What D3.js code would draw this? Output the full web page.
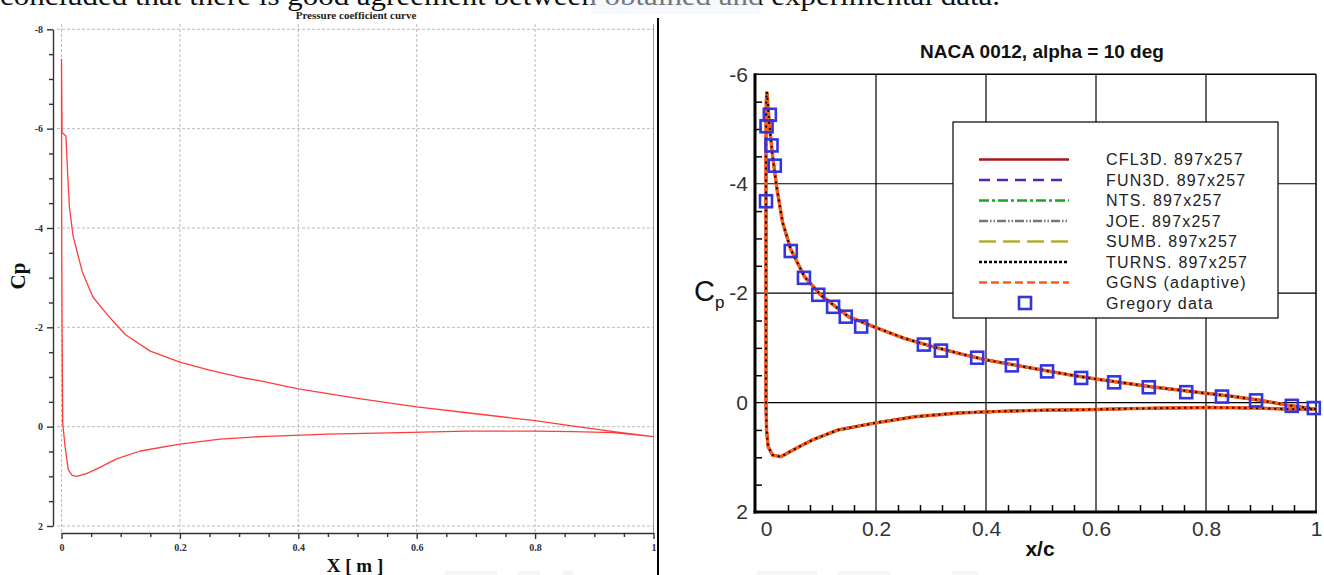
<!DOCTYPE html>
<html>
<head>
<meta charset="utf-8">
<script src="https://cdn.jsdelivr.net/npm/d3@7"></script>
<style>
  body { margin: 0; background: #fff; }
  svg { display: block; }
</style>
</head>
<body>
<div id="container"></div>
<script>
// ---- left chart data (Pressure coefficient curve) ----
// upper surface, trailing edge -> leading edge (with the LE spike)
const leftUpperX  = [1.0, 0.933, 0.865, 0.8, 0.685, 0.6, 0.5, 0.4, 0.336, 0.3, 0.25, 0.2, 0.15, 0.108, 0.0775, 0.053, 0.035, 0.0195, 0.0134, 0.0104, 0.0075, 0.003, 0.001, 0];
const leftUpperCp = [0.20, 0.10, -0.01, -0.12, -0.28, -0.40, -0.57, -0.76, -0.92, -1.0, -1.14, -1.30, -1.52, -1.85, -2.25, -2.61, -3.12, -3.84, -4.42, -5.08, -5.85, -5.9, -5.92, -7.4];
// lower surface, leading edge -> trailing edge
const leftLowerX  = [0.0003, 0.001, 0.002, 0.006, 0.0115, 0.018, 0.026, 0.043, 0.065, 0.093, 0.133, 0.2, 0.268, 0.336, 0.45, 0.572, 0.685, 0.8, 0.865, 0.932, 1.0];
const leftLowerCp = [-4.0, -2.0, -0.07, 0.40, 0.87, 0.98, 1.0, 0.94, 0.82, 0.65, 0.49, 0.35, 0.25, 0.20, 0.15, 0.12, 0.09, 0.09, 0.10, 0.12, 0.20];
const leftYTicks = [-8, -6, -4, -2, 0, 2];
const leftXTicks = [0, 0.2, 0.4, 0.6, 0.8, 1];

// ---- right chart data (NACA 0012, alpha = 10 deg) ----
const rightUpperX  = [1.0, 0.95, 0.9, 0.85, 0.8, 0.75, 0.7, 0.65, 0.6, 0.55, 0.5, 0.45, 0.4, 0.35, 0.3, 0.25, 0.2, 0.15, 0.1, 0.07, 0.045, 0.03, 0.02, 0.012, 0.006, 0.003, 0.0015, 0.0005, 0];
const rightUpperCp = [0.12, 0.05, -0.04, -0.11, -0.17, -0.23, -0.29, -0.36, -0.43, -0.51, -0.6, -0.69, -0.78, -0.9, -1.03, -1.18, -1.37, -1.57, -1.96, -2.3, -2.8, -3.3, -3.9, -4.5, -5.1, -5.5, -5.68, -5.5, -4.5];
const rightLowerX  = [0, 0, 0.001, 0.004, 0.012, 0.027, 0.054, 0.085, 0.131, 0.2, 0.27, 0.35, 0.425, 0.5, 0.58, 0.66, 0.73, 0.81, 0.89, 0.95, 1.0];
const rightLowerCp = [-2.0, 0.0, 0.5, 0.81, 0.96, 0.99, 0.84, 0.68, 0.50, 0.37, 0.26, 0.19, 0.16, 0.14, 0.13, 0.11, 0.10, 0.09, 0.10, 0.12, 0.12];
const gregoryX  = [0.001, 0.007, 0.0, 0.010, 0.016, 0.045, 0.069, 0.095, 0.122, 0.145, 0.173, 0.287, 0.318, 0.384, 0.447, 0.511, 0.573, 0.633, 0.696, 0.764, 0.829, 0.891, 0.956, 0.996];
const gregoryCp = [-5.05, -5.26, -3.68, -4.70, -4.33, -2.77, -2.28, -1.97, -1.75, -1.57, -1.39, -1.06, -0.95, -0.82, -0.68, -0.57, -0.45, -0.37, -0.28, -0.19, -0.11, -0.04, 0.06, 0.10];
const codeNames = ["CFL3D. 897x257", "FUN3D. 897x257", "NTS. 897x257", "JOE. 897x257", "SUMB. 897x257", "TURNS. 897x257", "GGNS (adaptive)"];
const rightYTicks = [-6, -4, -2, 0, 2];
const rightXTicks = [0, 0.2, 0.4, 0.6, 0.8, 1];

// line styles per code
const codeStyle = {
  "CFL3D. 897x257":  {color: "#a81818", dash: null},
  "FUN3D. 897x257":  {color: "#5523b5", dash: "11,7"},
  "NTS. 897x257":    {color: "#25a025", dash: "10,3,3,3"},
  "JOE. 897x257":    {color: "#777777", dash: "9,2,1.5,2,1.5,2"},
  "SUMB. 897x257":   {color: "#b5b033", dash: "17,7"},
  "TURNS. 897x257":  {color: "#000000", dash: "3,2"},
  "GGNS (adaptive)": {color: "#ff5a1a", dash: "8,4"}
};
// plot order: GGNS drawn solid-ish, TURNS dots on top
const drawOrder = ["CFL3D. 897x257", "FUN3D. 897x257", "NTS. 897x257", "JOE. 897x257", "SUMB. 897x257", "GGNS (adaptive)", "TURNS. 897x257"];

const W = 1324, H = 575;
const svg = d3.select("#container").append("svg").attr("width", W).attr("height", H);

// page text cut off at the top
svg.append("text")
  .attr("x", 0).attr("y", 5)
  .attr("textLength", 1000).attr("lengthAdjust", "spacingAndGlyphs")
  .style("font-family", "'Liberation Serif', 'Times New Roman', serif")
  .style("font-size", "28px").attr("fill", "#111")
  .text("concluded that there is good agreement between obtained and experimental data.");
svg.append("rect").attr("x", 592).attr("y", 0).attr("width", 168).attr("height", 14)
  .attr("fill", "#e8eff8").attr("opacity", 0.45);

// faint watermark pieces at the bottom
[[445, 52], [518, 22], [563, 10], [757, 60], [838, 52], [952, 26]].forEach(r => {
  svg.append("rect").attr("x", r[0]).attr("y", 571).attr("width", r[1]).attr("height", 4)
    .attr("fill", "#f2f6fb");
});

/* ================= LEFT CHART ================= */
const xL = d3.scaleLinear().domain([0, 1]).range([61.5, 653.5]);
const yL = d3.scaleLinear().domain([-8, 2]).range([29.3, 526]);
const serif = "'Liberation Serif', 'Times New Roman', serif";

const gl = svg.append("g");

// dashed grid
gl.selectAll("line.hgrid").data(leftYTicks).join("line")
  .attr("x1", 57).attr("x2", xL(1)).attr("y1", d => yL(d)).attr("y2", d => yL(d))
  .attr("stroke", "#bbb").attr("stroke-dasharray", "3,2");
gl.selectAll("line.vgrid").data(leftXTicks.slice(0, 5)).join("line")
  .attr("x1", d => xL(d)).attr("x2", d => xL(d)).attr("y1", 24).attr("y2", 533)
  .attr("stroke", "#bbb").attr("stroke-dasharray", "3,2");
gl.append("line").attr("x1", xL(1)).attr("x2", xL(1)).attr("y1", 24).attr("y2", 533)
  .attr("stroke", "#999");

// y axis
gl.append("g").attr("transform", "translate(53,0)")
  .call(d3.axisLeft(yL).tickValues(leftYTicks).tickSize(6).tickSizeOuter(0).tickPadding(4).tickFormat(d => String(d)));
gl.append("g").attr("transform", "translate(53,0)")
  .call(d3.axisLeft(yL).tickValues(d3.range(-7.5, 2, 0.5).filter(v => v % 2 !== 0)).tickSize(4).tickFormat(""))
  .call(g => g.select(".domain").remove());

// x axis
gl.append("g").attr("transform", "translate(0,533)")
  .call(d3.axisBottom(xL).tickValues(leftXTicks).tickSize(6).tickSizeOuter(0).tickPadding(5).tickFormat(d => String(d)));
gl.append("g").attr("transform", "translate(0,533)")
  .call(d3.axisBottom(xL).tickValues(d3.range(0.05, 1, 0.1).concat(d3.range(0.1, 1, 0.2))).tickSize(4).tickFormat(""))
  .call(g => g.select(".domain").remove());

gl.selectAll(".domain, .tick line").attr("stroke", "#333").attr("stroke-width", 1.4);
gl.selectAll(".tick text").attr("fill", "#2c3040")
  .style("font-family", serif).style("font-size", "10px").style("font-weight", "bold");

// curve
const leftPts = d3.zip(leftUpperX, leftUpperCp).concat(d3.zip(leftLowerX, leftLowerCp));
const lineL = d3.line().x(d => xL(d[0])).y(d => yL(d[1]));
gl.append("path").datum(leftPts).attr("d", lineL)
  .attr("fill", "none").attr("stroke", "#ff3c3c").attr("stroke-width", 1.3)
  .attr("stroke-linejoin", "round");

// titles
gl.append("text").attr("x", 356).attr("y", 19).attr("text-anchor", "middle")
  .style("font-family", serif).style("font-size", "11px").style("font-weight", "bold")
  .attr("fill", "#222").text("Pressure coefficient curve");
gl.append("text").attr("transform", "translate(25,276) rotate(-90)").attr("text-anchor", "middle")
  .style("font-family", serif).style("font-size", "21px").style("font-weight", "bold").attr("fill", "#111")
  .text("Cp");
gl.append("text").attr("x", 355).attr("y", 572).attr("text-anchor", "middle")
  .style("font-family", serif).style("font-size", "19px").style("font-weight", "bold").attr("fill", "#111")
  .text("X [ m ]");

// separator between the two pictures
svg.append("line").attr("x1", 658).attr("x2", 658).attr("y1", 18).attr("y2", 575)
  .attr("stroke", "#000").attr("stroke-width", 2);

/* ================= RIGHT CHART ================= */
const xR = d3.scaleLinear().domain([0, 1]).range([766, 1316]);
const yR = d3.scaleLinear().domain([-6, 2]).range([74.3, 512]);
const sans = "'Liberation Sans', Arial, Helvetica, sans-serif";
const axX = 755;

const gr = svg.append("g");

// grid
gr.selectAll("line.hgrid").data(rightYTicks.slice(1, 4)).join("line")
  .attr("x1", axX).attr("x2", xR(1)).attr("y1", d => yR(d)).attr("y2", d => yR(d))
  .attr("stroke", "#000").attr("stroke-width", 1.2);
gr.selectAll("line.vgrid").data(rightXTicks.slice(1, 5)).join("line")
  .attr("x1", d => xR(d)).attr("x2", d => xR(d)).attr("y1", yR(-6)).attr("y2", yR(2))
  .attr("stroke", "#000").attr("stroke-width", 1.2);
// frame top / right
gr.append("line").attr("x1", axX).attr("x2", xR(1)).attr("y1", yR(-6)).attr("y2", yR(-6)).attr("stroke", "#000").attr("stroke-width", 1.5);
gr.append("line").attr("x1", xR(1)).attr("x2", xR(1)).attr("y1", yR(-6)).attr("y2", yR(2)).attr("stroke", "#000").attr("stroke-width", 1.5);

// axes
gr.append("g").attr("transform", `translate(${axX},0)`)
  .call(d3.axisLeft(yR).tickValues(rightYTicks).tickSize(0).tickSizeOuter(0).tickPadding(7).tickFormat(d => String(d)))
  .call(g => g.select(".domain").remove());
gr.append("g").attr("transform", `translate(${axX},0)`)
  .call(d3.axisLeft(yR).tickValues(d3.range(-5.5, 2, 0.5).filter(v => v % 2 !== 0)).tickSize(-7).tickFormat(""))
  .call(g => g.select(".domain").remove());
gr.append("g").attr("transform", `translate(0,${yR(2)})`)
  .call(d3.axisBottom(xR).tickValues(rightXTicks).tickSize(0).tickSizeOuter(0).tickPadding(9).tickFormat(d => String(d)))
  .call(g => g.select(".domain").remove());
gr.append("g").attr("transform", `translate(0,${yR(2)})`)
  .call(d3.axisBottom(xR).tickValues(d3.range(0, 25).map(i => i * 0.04).filter((v, i) => i % 5 !== 0)).tickSize(-7).tickFormat(""))
  .call(g => g.select(".domain").remove());
gr.selectAll(".tick line").attr("stroke", "#000").attr("stroke-width", 1.5);
gr.selectAll(".tick text").attr("fill", "#333")
  .style("font-family", sans).style("font-size", "21px");

gr.append("line").attr("x1", axX).attr("x2", axX).attr("y1", yR(-6) - 1).attr("y2", yR(2) + 1.5)
  .attr("stroke", "#000").attr("stroke-width", 3);
gr.append("line").attr("x1", axX - 1.5).attr("x2", xR(1) + 1).attr("y1", yR(2)).attr("y2", yR(2))
  .attr("stroke", "#000").attr("stroke-width", 3);

// CFD curves (all codes overlap)
const rightPts = d3.zip(rightUpperX, rightUpperCp).concat(d3.zip(rightLowerX, rightLowerCp));
const lineR = d3.line().x(d => xR(d[0])).y(d => yR(d[1]));
gr.selectAll("path.code").data(drawOrder).join("path")
  .attr("class", "code")
  .attr("d", () => lineR(rightPts))
  .attr("fill", "none")
  .attr("stroke", d => codeStyle[d].color)
  .attr("stroke-width", d => d === "GGNS (adaptive)" ? 3.4 : d === "TURNS. 897x257" ? 2 : 2.6)
  .attr("stroke-dasharray", d => d === "GGNS (adaptive)" ? null : d === "TURNS. 897x257" ? "2,4" : codeStyle[d].dash);

// Gregory data squares
const sq = 12;
gr.selectAll("rect.greg").data(d3.zip(gregoryX, gregoryCp)).join("rect")
  .attr("class", "greg")
  .attr("x", d => xR(d[0]) - sq / 2).attr("y", d => yR(d[1]) - sq / 2)
  .attr("width", sq).attr("height", sq)
  .attr("fill", "none").attr("stroke", "#3535e0").attr("stroke-width", 2.6);

// legend
const lg = gr.append("g");
lg.append("rect").attr("x", 953).attr("y", 122).attr("width", 325).attr("height", 196)
  .attr("fill", "#fff").attr("stroke", "#000").attr("stroke-width", 1.2);
const rowY = i => 159.5 + i * 20.5;
lg.selectAll("line.key").data(codeNames).join("line")
  .attr("x1", 979).attr("x2", 1069).attr("y1", (d, i) => rowY(i)).attr("y2", (d, i) => rowY(i))
  .attr("stroke", d => codeStyle[d].color).attr("stroke-width", 2.6)
  .attr("stroke-dasharray", d => codeStyle[d].dash);
lg.append("rect").attr("x", 1025 - sq / 2).attr("y", rowY(7) - sq / 2).attr("width", sq).attr("height", sq)
  .attr("fill", "none").attr("stroke", "#3535e0").attr("stroke-width", 2.6);
lg.selectAll("text.key").data(codeNames.concat(["Gregory data"])).join("text")
  .attr("x", 1106).attr("y", (d, i) => rowY(i)).attr("dy", "0.36em")
  .style("font-family", sans).style("font-size", "16px").style("letter-spacing", "1.2px")
  .attr("fill", "#222").text(d => d);

// titles
gr.append("text").attr("x", 1042).attr("y", 58).attr("text-anchor", "middle")
  .style("font-family", sans).style("font-size", "19px").style("font-weight", "bold").attr("fill", "#111")
  .text("NACA 0012, alpha = 10 deg");
gr.append("text").attr("x", 1040).attr("y", 556).attr("text-anchor", "middle")
  .style("font-family", sans).style("font-size", "21px").style("font-weight", "bold").attr("fill", "#111")
  .text("x/c");
const cp = gr.append("text").attr("x", 694).attr("y", 301)
  .style("font-family", sans).style("font-size", "29px").attr("fill", "#111");
cp.append("tspan").text("C");
cp.append("tspan").attr("dy", 7).style("font-size", "17px").text("p");
</script>
</body>
</html>
